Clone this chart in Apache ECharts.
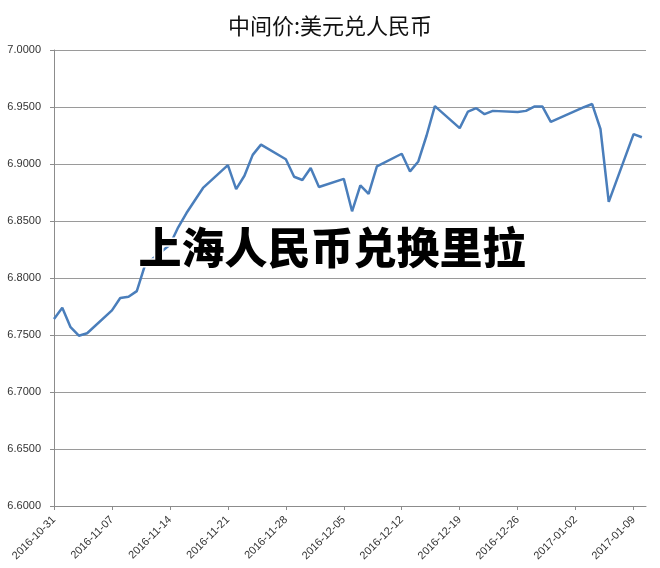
<!DOCTYPE html>
<html>
<head>
<meta charset="utf-8">
<script src="https://cdn.jsdelivr.net/npm/echarts@6/dist/echarts.min.js"></script>
<style>
html, body { margin: 0; padding: 0; background: #fff; }
#main { width: 660px; height: 568px; }
</style>
</head>
<body>
<div id="main"></div>
<script>
// trading days and the USD/CNY central parity
var dates = [
    '2016-10-31', '2016-11-01', '2016-11-02', '2016-11-03', '2016-11-04',
    '2016-11-07', '2016-11-08', '2016-11-09', '2016-11-10', '2016-11-11',
    '2016-11-14', '2016-11-15', '2016-11-16', '2016-11-17', '2016-11-18',
    '2016-11-21', '2016-11-22', '2016-11-23', '2016-11-24', '2016-11-25',
    '2016-11-28', '2016-11-29', '2016-11-30', '2016-12-01', '2016-12-02',
    '2016-12-05', '2016-12-06', '2016-12-07', '2016-12-08', '2016-12-09',
    '2016-12-12', '2016-12-13', '2016-12-14', '2016-12-15', '2016-12-16',
    '2016-12-19', '2016-12-20', '2016-12-21', '2016-12-22', '2016-12-23',
    '2016-12-26', '2016-12-27', '2016-12-28', '2016-12-29', '2016-12-30',
    '2017-01-03', '2017-01-04', '2017-01-05', '2017-01-06',
    '2017-01-09', '2017-01-10'
];
var rates = [
    6.7641, 6.7739, 6.7568, 6.7494, 6.7515,
    6.7716, 6.7825, 6.7835, 6.7885, 6.8115,
    6.8291, 6.8445, 6.8570, 6.8680, 6.8790,
    6.8990, 6.8780, 6.8897, 6.9080, 6.9170,
    6.9042, 6.8888, 6.8860, 6.8965, 6.8798,
    6.8870, 6.8585, 6.8813, 6.8737, 6.8979,
    6.9090, 6.8935, 6.9022, 6.9250, 6.9508,
    6.9315, 6.9460, 6.9490, 6.9437, 6.9466,
    6.9457, 6.9466, 6.9504, 6.9504, 6.9370,
    6.9498, 6.9526, 6.9307, 6.8668,
    6.9262, 6.9235
];
var startDate = '2016-10-31';
var titleText = '中间价:美元兑人民币';
var overlayText = '上海人民币兑换里拉';

var DAY = 24 * 3600 * 1000;
var t0 = Date.parse(startDate + 'T00:00:00Z');

function dayOffset(s) {
    return Math.round((Date.parse(s + 'T00:00:00Z') - t0) / DAY);
}
function dayLabel(v) {
    if (v % 7 !== 0) return '';
    var d = new Date(t0 + v * DAY);
    var m = d.getUTCMonth() + 1, dd = d.getUTCDate();
    return d.getUTCFullYear() + '-' + (m < 10 ? '0' : '') + m + '-' + (dd < 10 ? '0' : '') + dd;
}

var myChart = echarts.init(document.getElementById('main'));
window.onresize = function () {
    myChart.resize();
};

myChart.setOption({
    animation: false,
    textStyle: {
        fontFamily: 'Noto Sans CJK SC'
    },
    title: {
        text: titleText,
        left: 'center',
        top: 15,
        padding: 0,
        textStyle: {
            fontSize: 22,
            fontWeight: 'normal',
            color: '#111',
            fontFamily: 'Noto Sans CJK SC'
        }
    },
    grid: {
        left: 54,
        right: 14,
        top: 50,
        bottom: 62
    },
    xAxis: {
        type: 'value',
        min: 0,
        max: 71.5,
        interval: 7,
        axisLine: { lineStyle: { color: '#8c8c8c', width: 1 } },
        axisTick: { show: true, length: 4, lineStyle: { color: '#8c8c8c' } },
        splitLine: { show: false },
        axisLabel: {
            rotate: 45,
            margin: 12,
            fontSize: 11,
            color: '#333',
            fontFamily: 'Liberation Sans',
            showMaxLabel: false,
            formatter: dayLabel
        }
    },
    yAxis: {
        type: 'value',
        min: 6.6,
        max: 7.0,
        interval: 0.05,
        axisLine: { show: true, lineStyle: { color: '#8c8c8c', width: 1 } },
        axisTick: { show: true, length: 4, lineStyle: { color: '#8c8c8c' } },
        splitLine: { lineStyle: { color: '#9a9a9a', width: 1 } },
        axisLabel: {
            margin: 13,
            fontSize: 11,
            color: '#333',
            fontFamily: 'Liberation Sans',
            formatter: function (v) { return v.toFixed(4); }
        }
    },
    series: [
        {
            type: 'line',
            showSymbol: false,
            symbol: 'none',
            data: dates.map(function (d, i) {
                return [dayOffset(d), rates[i]];
            }),
            lineStyle: {
                color: '#4a7ebb',
                width: 2.5
            }
        }
    ],
    graphic: [
        {
            type: 'text',
            x: 332,
            y: 248,
            z: 100,
            style: {
                text: overlayText,
                fontSize: 43,
                fontWeight: 900,
                fontFamily: 'Noto Sans CJK SC',
                fill: '#000',
                stroke: '#fff',
                lineWidth: 3,
                strokeFirst: true,
                align: 'center',
                verticalAlign: 'middle'
            }
        }
    ]
});
</script>
</body>
</html>
